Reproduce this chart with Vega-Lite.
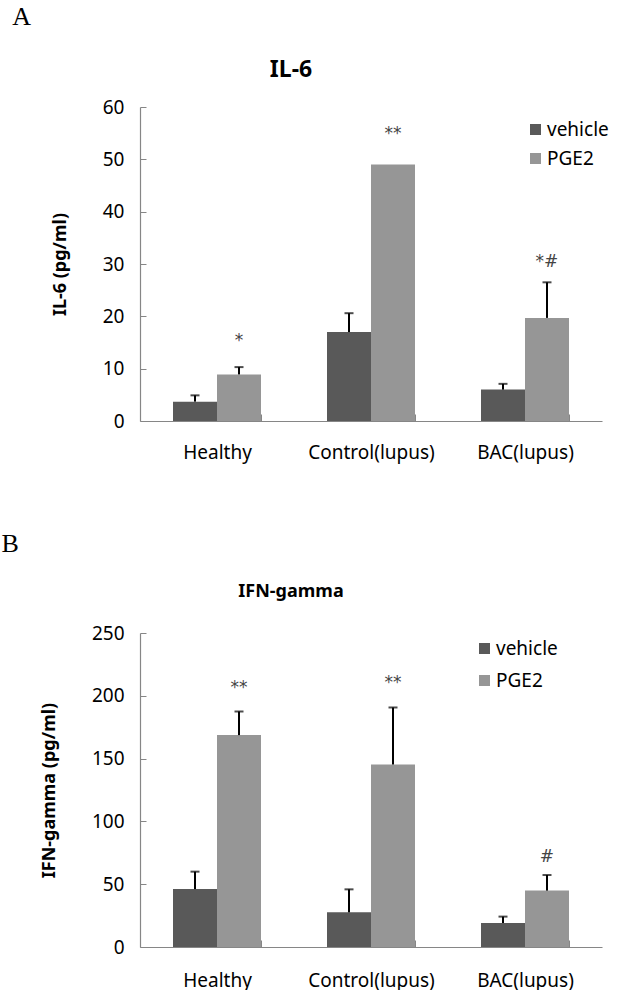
{
  "$schema": "https://vega.github.io/schema/vega-lite/v6.json",
  "background": "white",
  "padding": {"left": 1, "top": 4, "right": 0, "bottom": 0},
  "config": {
    "view": {"stroke": null},
    "font": "Noto Sans"
  },
  "spacing": 69,
  "resolve": {"scale": {"color": "independent"}, "legend": {"color": "independent"}},
  "vconcat": [
    {
      "title": {"text": "A", "anchor": "start", "font": "Liberation Serif", "fontSize": 26, "fontWeight": "normal", "color": "black", "dx": -39, "offset": 29},
      "resolve": {"scale": {"color": "independent"}, "legend": {"color": "independent"}},
      "vconcat": [
        {
          "width": 462,
          "height": 314,
          "title": {"text": "IL-6", "font": "Noto Sans", "fontSize": 23, "fontWeight": "bold", "color": "black", "dx": -80, "offset": 16},
          "data": {"values": [
            {"group": "Healthy", "treatment": "vehicle", "value": 3.7, "upper": 4.9, "label": null, "labelY": null},
            {"group": "Healthy", "treatment": "PGE2", "value": 8.9, "upper": 10.3, "label": "*", "labelY": 15.3},
            {"group": "Control(lupus)", "treatment": "vehicle", "value": 17.0, "upper": 20.6, "label": null, "labelY": null},
            {"group": "Control(lupus)", "treatment": "PGE2", "value": 49.0, "upper": null, "label": "**", "labelY": 54.9},
            {"group": "BAC(lupus)", "treatment": "vehicle", "value": 6.0, "upper": 7.1, "label": null, "labelY": null},
            {"group": "BAC(lupus)", "treatment": "PGE2", "value": 19.7, "upper": 26.5, "label": "*#", "labelY": 30.3}
          ]},
          "encoding": {
            "x": {"field": "group", "type": "nominal", "sort": ["Healthy", "Control(lupus)", "BAC(lupus)"],
              "scale": {"paddingInner": 0.4286, "paddingOuter": 0.2143},
              "axis": {"title": null, "labelAngle": 0, "labelFontSize": 19, "labelColor": "black", "labelFont": "Noto Sans",
                "domainColor": "#868686", "domainWidth": 1.2, "tickColor": "#868686", "tickBand": "extent", "tickSize": -7, "labelPadding": 29}},
            "xOffset": {"field": "treatment", "type": "nominal", "sort": ["vehicle", "PGE2"], "scale": {"paddingInner": 0, "paddingOuter": 0}}
          },
          "layer": [
            {
              "mark": {"type": "bar"},
              "encoding": {
                "y": {"field": "value", "type": "quantitative", "scale": {"domain": [0, 60], "nice": false},
                  "axis": {"values": [0, 10, 20, 30, 40, 50, 60], "grid": false, "title": "IL-6 (pg/ml)", "titleFontSize": 18, "titleFontWeight": "bold", "titleColor": "black", "titleFont": "Noto Sans", "titlePadding": 33,
                    "labelFontSize": 19, "labelColor": "black", "labelFont": "Noto Sans", "domainColor": "#868686", "domainWidth": 1.2, "tickColor": "#868686", "tickSize": -6, "labelPadding": 22}},
                "color": {"field": "treatment", "type": "nominal", "sort": ["vehicle", "PGE2"],
                  "scale": {"domain": ["vehicle", "PGE2"], "range": ["#595959", "#969696"]},
                  "legend": {"title": null, "orient": "none", "legendX": 386, "legendY": 13, "symbolType": "square", "symbolSize": 121, "symbolStrokeWidth": 0, "labelFontSize": 19, "labelColor": "black", "labelFont": "Noto Sans", "labelOffset": 2, "rowPadding": 9}}
              }
            },
            {
              "transform": [{"filter": "datum.upper != null"}],
              "mark": {"type": "rule", "color": "black", "strokeWidth": 2},
              "encoding": {"y": {"field": "value", "type": "quantitative"}, "y2": {"field": "upper"}}
            },
            {
              "transform": [{"filter": "datum.upper != null"}],
              "mark": {"type": "tick", "color": "black", "thickness": 2, "size": 9, "orient": "horizontal"},
              "encoding": {"y": {"field": "upper", "type": "quantitative"}}
            },
            {
              "transform": [{"filter": "datum.label != null"}],
              "mark": {"type": "text", "fontSize": 17, "color": "#444444", "font": "DejaVu Sans", "baseline": "middle"},
              "encoding": {"y": {"field": "labelY", "type": "quantitative"}, "text": {"field": "label"}}
            }
          ]
        }
      ]
    },
    {
      "title": {"text": "B", "anchor": "start", "font": "Liberation Serif", "fontSize": 26, "fontWeight": "normal", "color": "black", "dx": -39, "offset": 26},
      "resolve": {"scale": {"color": "independent"}, "legend": {"color": "independent"}},
      "vconcat": [
        {
          "width": 462,
          "height": 314,
          "title": {"text": "IFN-gamma", "font": "Noto Sans", "fontSize": 18, "fontWeight": "bold", "color": "black", "dx": -80, "offset": 23},
          "data": {"values": [
            {"group": "Healthy", "treatment": "vehicle", "value": 46.1, "upper": 60, "label": null, "labelY": null},
            {"group": "Healthy", "treatment": "PGE2", "value": 168.7, "upper": 187.5, "label": "**", "labelY": 206},
            {"group": "Control(lupus)", "treatment": "vehicle", "value": 27.6, "upper": 45.9, "label": null, "labelY": null},
            {"group": "Control(lupus)", "treatment": "PGE2", "value": 145.3, "upper": 190.7, "label": "**", "labelY": 210},
            {"group": "BAC(lupus)", "treatment": "vehicle", "value": 19.1, "upper": 24.2, "label": null, "labelY": null},
            {"group": "BAC(lupus)", "treatment": "PGE2", "value": 44.9, "upper": 57.3, "label": "#", "labelY": 72}
          ]},
          "encoding": {
            "x": {"field": "group", "type": "nominal", "sort": ["Healthy", "Control(lupus)", "BAC(lupus)"],
              "scale": {"paddingInner": 0.4286, "paddingOuter": 0.2143},
              "axis": {"title": null, "labelAngle": 0, "labelFontSize": 19, "labelColor": "black", "labelFont": "Noto Sans",
                "domainColor": "#868686", "domainWidth": 1.2, "tickColor": "#868686", "tickBand": "extent", "tickSize": -7, "labelPadding": 31}},
            "xOffset": {"field": "treatment", "type": "nominal", "sort": ["vehicle", "PGE2"], "scale": {"paddingInner": 0, "paddingOuter": 0}}
          },
          "layer": [
            {
              "mark": {"type": "bar"},
              "encoding": {
                "y": {"field": "value", "type": "quantitative", "scale": {"domain": [0, 250], "nice": false},
                  "axis": {"values": [0, 50, 100, 150, 200, 250], "grid": false, "title": "IFN-gamma (pg/ml)", "titleFontSize": 18, "titleFontWeight": "bold", "titleColor": "black", "titleFont": "Noto Sans", "titlePadding": 33,
                    "labelFontSize": 19, "labelColor": "black", "labelFont": "Noto Sans", "domainColor": "#868686", "domainWidth": 1.2, "tickColor": "#868686", "tickSize": -6, "labelPadding": 22}},
                "color": {"field": "treatment", "type": "nominal", "sort": ["vehicle", "PGE2"],
                  "scale": {"domain": ["vehicle", "PGE2"], "range": ["#595959", "#969696"]},
                  "legend": {"title": null, "orient": "none", "legendX": 335, "legendY": 6, "symbolType": "square", "symbolSize": 121, "symbolStrokeWidth": 0, "labelFontSize": 19, "labelColor": "black", "labelFont": "Noto Sans", "labelOffset": 2, "rowPadding": 12}}
              }
            },
            {
              "transform": [{"filter": "datum.upper != null"}],
              "mark": {"type": "rule", "color": "black", "strokeWidth": 2},
              "encoding": {"y": {"field": "value", "type": "quantitative"}, "y2": {"field": "upper"}}
            },
            {
              "transform": [{"filter": "datum.upper != null"}],
              "mark": {"type": "tick", "color": "black", "thickness": 2, "size": 9, "orient": "horizontal"},
              "encoding": {"y": {"field": "upper", "type": "quantitative"}}
            },
            {
              "transform": [{"filter": "datum.label != null"}],
              "mark": {"type": "text", "fontSize": 17, "color": "#444444", "font": "DejaVu Sans", "baseline": "middle"},
              "encoding": {"y": {"field": "labelY", "type": "quantitative"}, "text": {"field": "label"}}
            }
          ]
        }
      ]
    }
  ]
}
